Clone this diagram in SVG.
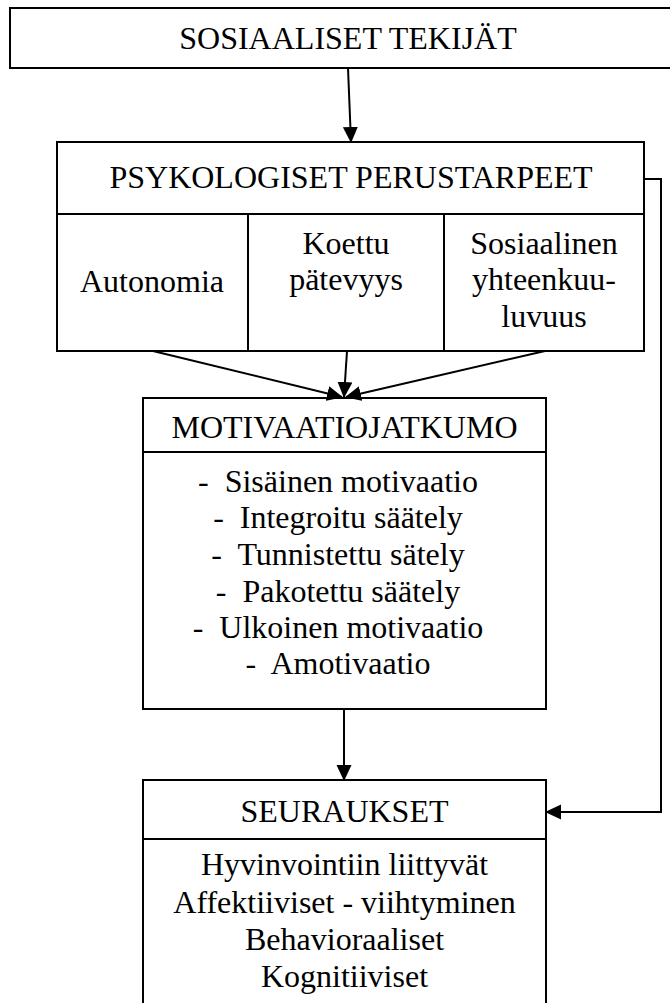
<svg xmlns="http://www.w3.org/2000/svg" width="670" height="1003" viewBox="0 0 670 1003">
<style>
.box{fill:#fff;stroke:#000;stroke-width:2}
.ln{fill:none;stroke:#000;stroke-width:2}
.con{fill:none;stroke:#000;stroke-width:2;marker-end:url(#ah)}
text{font-size:32px;fill:#000;text-anchor:middle}
</style>
<defs>
<marker id="ah" markerUnits="userSpaceOnUse" markerWidth="16" markerHeight="16" refX="15" refY="7.5" orient="auto" viewBox="0 0 16 15">
<path d="M0,0 L16,7.5 L0,15 z" fill="#000"/>
</marker>
</defs>
<rect width="670" height="1003" fill="#fff"/>
<g font-family="Liberation Serif, Tinos, DejaVu Serif, serif">
<g id="sosiaaliset">
<rect class="box" x="10" y="8" width="680" height="60"/>
<text x="348" y="49">SOSIAALISET TEKIJÄT</text>
</g>
<g id="psykologiset">
<rect class="box" x="57" y="142" width="587" height="209"/>
<line class="ln" x1="57" y1="214" x2="644" y2="214"/>
<line class="ln" x1="248" y1="214" x2="248" y2="351"/>
<line class="ln" x1="444" y1="214" x2="444" y2="351"/>
<text x="351" y="188">PSYKOLOGISET PERUSTARPEET</text>
</g>
<g id="autonomia">
<text x="152" y="292">Autonomia</text>
</g>
<g id="patevyys">
<text x="346" y="254">Koettu</text>
<text x="346" y="290">pätevyys</text>
</g>
<g id="yhteenkuuluvuus">
<text x="544" y="254">Sosiaalinen</text>
<text x="544" y="290">yhteenkuu-</text>
<text x="544" y="327">luvuus</text>
</g>
<g id="motivaatio">
<rect class="box" x="143" y="398" width="403" height="311"/>
<line class="ln" x1="143" y1="452" x2="546" y2="452"/>
<text x="344.5" y="438">MOTIVAATIOJATKUMO</text>
<text x="338" y="492" xml:space="preserve">-  Sisäinen motivaatio</text>
<text x="338" y="528" xml:space="preserve">-  Integroitu säätely</text>
<text x="338" y="565" xml:space="preserve">-  Tunnistettu sätely</text>
<text x="338" y="602" xml:space="preserve">-  Pakotettu säätely</text>
<text x="338" y="638" xml:space="preserve">-  Ulkoinen motivaatio</text>
<text x="338" y="674" xml:space="preserve">-  Amotivaatio</text>
</g>
<g id="seuraukset">
<rect class="box" x="143" y="780" width="403" height="240"/>
<line class="ln" x1="143" y1="839" x2="546" y2="839"/>
<text x="344.5" y="822">SEURAUKSET</text>
<text x="344.5" y="875">Hyvinvointiin liittyvät</text>
<text x="344.5" y="913">Affektiiviset - viihtyminen</text>
<text x="344.5" y="950">Behavioraaliset</text>
<text x="344.5" y="987">Kognitiiviset</text>
</g>
</g>
<g id="connectors">
<line class="con" x1="348" y1="68" x2="351" y2="142"/>
<line class="con" x1="153" y1="351" x2="342" y2="397"/>
<line class="con" x1="347" y1="351" x2="344" y2="397"/>
<line class="con" x1="545" y1="351" x2="346" y2="397"/>
<line class="con" x1="344" y1="709" x2="344" y2="780"/>
<path class="con" d="M644,179 H661 V812 H546"/>
</g>
</svg>
